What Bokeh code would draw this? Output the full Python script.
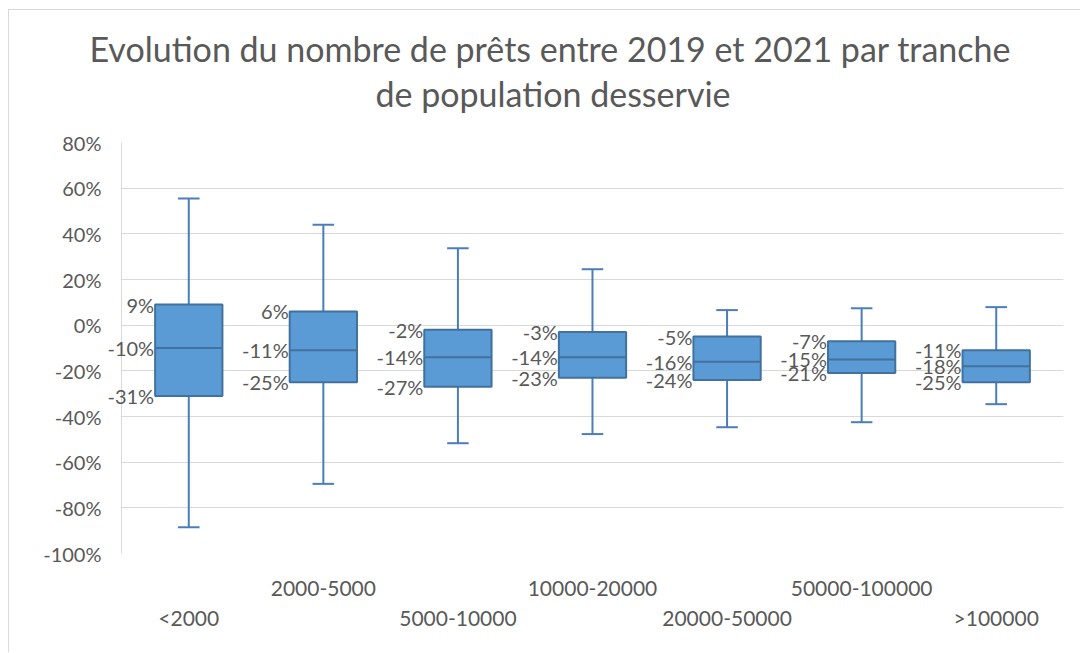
from bokeh.plotting import figure
from bokeh.models import (FixedTicker, NumeralTickFormatter, LinearAxis, Title,
                          ColumnDataSource, Range1d, Label, Grid)
from bokeh.embed import file_html
from bokeh.resources import INLINE
import numpy as np

categories = ["<2000", "2000-5000", "5000-10000", "10000-20000",
              "20000-50000", "50000-100000", ">100000"]
maxs = [0.555, 0.44, 0.337, 0.245, 0.066, 0.074, 0.079]
q3s = [0.09, 0.06, -0.02, -0.03, -0.05, -0.07, -0.11]
medians = [-0.10, -0.11, -0.14, -0.14, -0.16, -0.15, -0.18]
q1s = [-0.31, -0.25, -0.27, -0.23, -0.24, -0.21, -0.25]
mins = [-0.885, -0.695, -0.517, -0.477, -0.447, -0.425, -0.346]
y_ticks = [-1.0, -0.8, -0.6, -0.4, -0.2, 0.0, 0.2, 0.4, 0.6, 0.8]
title_lines = ["Evolution du nombre de prêts entre 2019 et 2021 par tranche",
               "de population desservie"]

FONT = "Lato"
TXT = "#595959"
GRID = "#d9d9d9"
FILL = "#5B9BD5"
EDGE = "#41719C"
WHISK = "#4A7EBB"
BOX_W = 0.5
CAP_W = 0.16
PAD = 0.1485   # extra room left of the category axis so that labels are not cut

n = len(categories)
xc = np.arange(n) + 0.5

src = ColumnDataSource(dict(
    x=xc, mx=maxs, q3=q3s, med=medians, q1=q1s, mn=mins,
    left=xc - BOX_W / 2, right=xc + BOX_W / 2,
    cl=xc - CAP_W / 2, cr=xc + CAP_W / 2,
))

p = figure(width=1072, height=643, output_backend="svg", toolbar_location=None,
           x_range=Range1d(-PAD, n), y_range=Range1d(-1.0, 0.8),
           min_border_left=92, min_border_right=18, min_border_top=132,
           min_border_bottom=100)
p.outline_line_color = None
p.background_fill_color = "white"
p.border_fill_color = "white"
p.styles = {"border-top": "1px solid #d9d9d9", "border-left": "1px solid #d9d9d9",
            "margin-left": "8px", "margin-top": "9px"}

# titles (second line added first so it sits closer to the plot)
p.add_layout(Title(text=title_lines[1], align="left", offset=274, text_font=FONT,
                   text_font_size="34px", text_color=TXT,
                   text_font_style="normal", standoff=58), "above")
p.add_layout(Title(text=title_lines[0], align="left", offset=-12, text_font=FONT,
                   text_font_size="34px", text_color=TXT,
                   text_font_style="normal", standoff=-54), "above")

# gridlines limited to the category span
if "cross_bounds" in Grid.properties():
    p.ygrid.cross_bounds = (0, n)
    p.ygrid.ticker = FixedTicker(ticks=y_ticks)
    p.ygrid.grid_line_color = GRID
else:
    p.ygrid.grid_line_color = None
    p.segment(x0=[0] * len(y_ticks), x1=[n] * len(y_ticks), y0=y_ticks, y1=y_ticks,
              line_color=GRID, line_width=1, level="underlay")
p.xgrid.grid_line_color = None

# whiskers
p.segment(x0="x", y0="q3", x1="x", y1="mx", source=src, line_color=WHISK, line_width=2)
p.segment(x0="x", y0="q1", x1="x", y1="mn", source=src, line_color=WHISK, line_width=2)
p.segment(x0="cl", y0="mx", x1="cr", y1="mx", source=src, line_color=WHISK, line_width=2)
p.segment(x0="cl", y0="mn", x1="cr", y1="mn", source=src, line_color=WHISK, line_width=2)
# boxes
p.quad(left="left", right="right", top="q3", bottom="q1", source=src,
       fill_color=FILL, line_color=EDGE, line_width=2)
p.segment(x0="left", y0="med", x1="right", y1="med", source=src,
          line_color=EDGE, line_width=2)

# data labels
for i in range(n):
    for v in (q3s[i], medians[i], q1s[i]):
        p.add_layout(Label(x=float(xc[i] - BOX_W / 2), y=v, text=f"{round(v*100)}%",
                           text_align="right", text_baseline="middle", x_offset=-1,
                           text_font=FONT, text_font_size="20px", text_color=TXT))

# y axis line, placed at the start of the categories (no labels)
p.yaxis.fixed_location = 0
p.yaxis.ticker = FixedTicker(ticks=y_ticks)
p.yaxis.axis_line_color = GRID
p.yaxis.major_tick_line_color = None
p.yaxis.minor_tick_line_color = None
p.yaxis.major_tick_out = 0
p.yaxis.major_tick_in = 0
p.yaxis.major_label_text_color = None

# y tick labels in the left panel
yl = LinearAxis(ticker=FixedTicker(ticks=y_ticks),
                formatter=NumeralTickFormatter(format="0%"))
yl.axis_line_color = None
yl.major_tick_line_color = None
yl.minor_tick_line_color = None
yl.major_tick_out = 0
yl.major_tick_in = 0
yl.major_label_standoff = 0
yl.major_label_text_font = FONT
yl.major_label_text_font_size = "20px"
yl.major_label_text_color = TXT
p.add_layout(yl, "left")

# x axes (staggered labels)
odd_pos = [float(xc[i]) for i in range(1, n, 2)]
even_pos = [float(xc[i]) for i in range(0, n, 2)]

ax1 = p.xaxis[0]
ax1.ticker = FixedTicker(ticks=odd_pos)
ax1.major_label_overrides = {float(xc[i]): categories[i] for i in range(1, n, 2)}
ax2 = LinearAxis(ticker=FixedTicker(ticks=even_pos),
                 major_label_overrides={float(xc[i]): categories[i] for i in range(0, n, 2)})
p.add_layout(ax2, "below")
for ax, so in ((ax1, 27), (ax2, 6)):
    ax.axis_line_color = None
    ax.major_tick_line_color = None
    ax.minor_tick_line_color = None
    ax.major_tick_out = 0
    ax.major_label_text_font = FONT
    ax.major_label_text_font_size = "21px"
    ax.major_label_text_color = TXT
    ax.major_label_standoff = so

open("out.html", "w").write(file_html(p, INLINE))
